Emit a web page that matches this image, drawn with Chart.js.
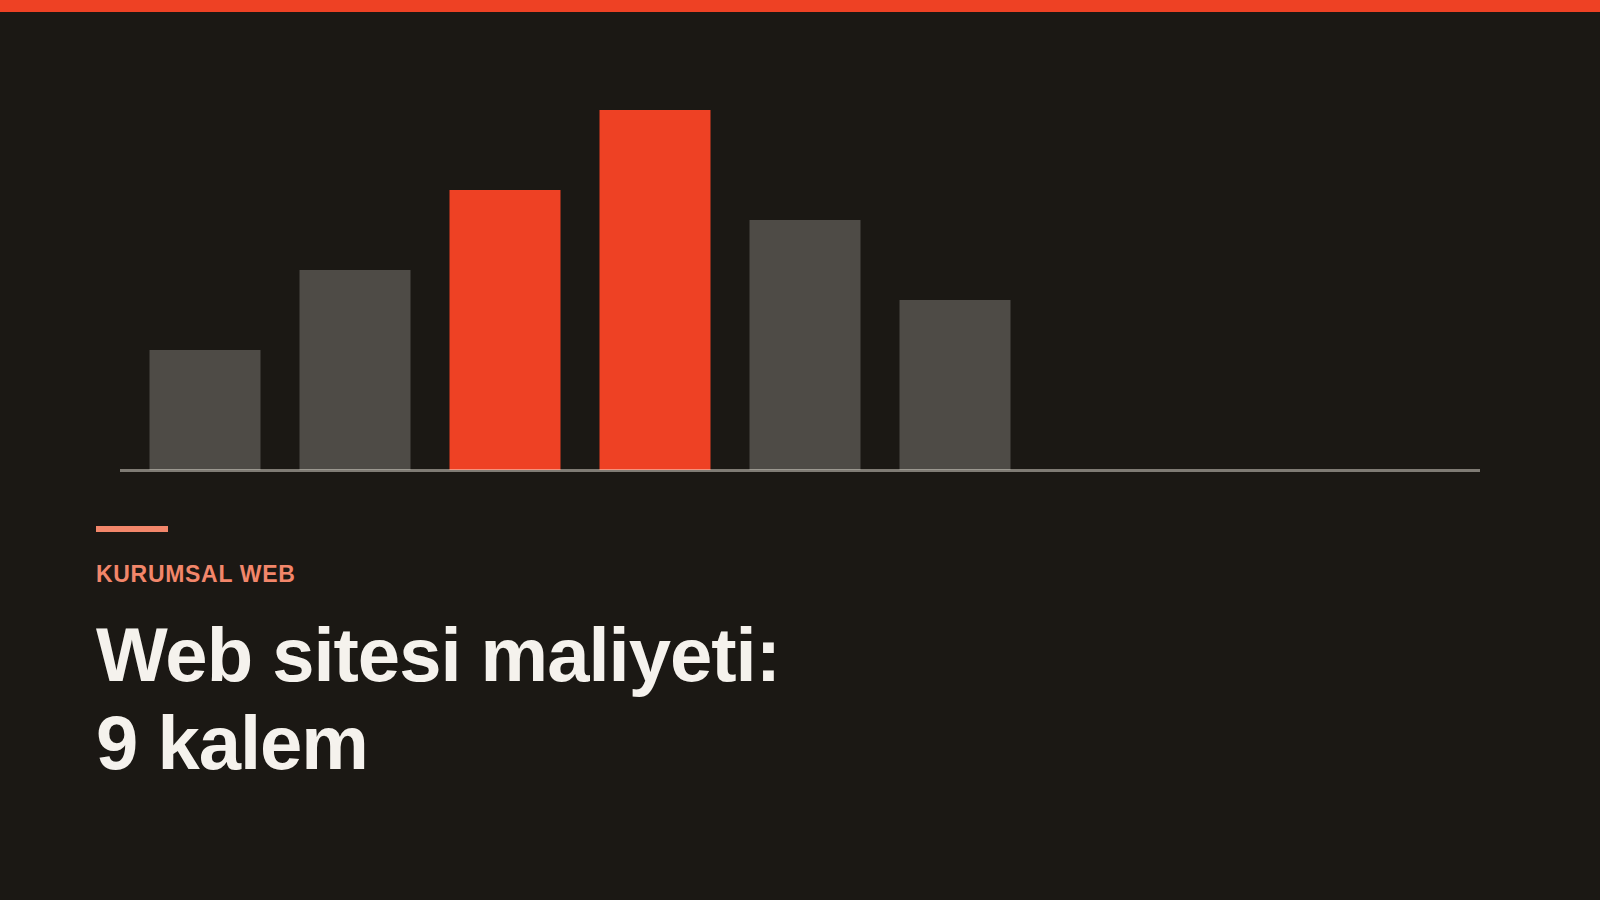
<!DOCTYPE html>
<html lang="tr">
<head>
    <meta charset="UTF-8">
    <title>Web sitesi maliyeti</title>
    <script src="https://cdn.jsdelivr.net/npm/chart.js"></script>
    <style>
        html, body { margin: 0; padding: 0; }
        body {
            width: 1600px; height: 900px; overflow: hidden; position: relative;
            background: #1b1814;
            font-family: "Liberation Sans", Arial, sans-serif;
        }
        .topbar { position: absolute; left: 0; top: 0; width: 1600px; height: 12px; background: #ee4124; }
        #chartWrap { position: absolute; left: 0; top: 0; width: 1600px; height: 480px; }
        .accent { position: absolute; left: 96px; top: 526px; width: 72px; height: 6px; background: #f2866a; }
        .kicker {
            position: absolute; left: 96px; top: 563px; margin: 0;
            font-size: 23px; line-height: 23px; font-weight: 700; letter-spacing: 0.03em;
            color: #f2866a;
        }
        h1 {
            position: absolute; left: 96px; top: 611px; margin: 0;
            font-size: 76px; line-height: 88px; font-weight: 700; letter-spacing: -1px;
            color: #f5f2ed;
        }
    </style>
</head>
<body>
    <div class="topbar"></div>
    <div id="chartWrap"><canvas id="costChart" width="1600" height="480"></canvas></div>
    <div class="accent"></div>
    <p class="kicker">KURUMSAL WEB</p>
    <h1>Web sitesi maliyeti:<br>9 kalem</h1>

    <script>
        // 9 kalem, only the first six have a bar
        const categories = ['Kalem 1', 'Kalem 2', 'Kalem 3', 'Kalem 4', 'Kalem 5', 'Kalem 6', 'Kalem 7', 'Kalem 8', 'Kalem 9'];
        const costValues = [120, 200, 280, 360, 250, 170, null, null, null];
        const highlighted = [false, false, true, true, false, false, false, false, false];
        const yMax = 400;

        const RED = '#ee4124';
        const GREY = '#4e4b46';

        // baseline drawn over the bars, a bit wider on the left like the original
        const baseline = {
            id: 'baseline',
            afterDatasetsDraw(chart) {
                const ctx = chart.ctx;
                const a = chart.chartArea;
                const y = chart.scales.y.getPixelForValue(0);
                ctx.save();
                ctx.strokeStyle = 'rgba(255, 250, 240, 0.44)';
                ctx.lineWidth = 3;
                ctx.beginPath();
                ctx.moveTo(a.left - 10, y + 0.5);
                ctx.lineTo(a.right, y + 0.5);
                ctx.stroke();
                ctx.restore();
            }
        };

        new Chart(document.getElementById('costChart').getContext('2d'), {
            type: 'bar',
            data: {
                labels: categories,
                datasets: [{
                    data: costValues,
                    backgroundColor: highlighted.map(h => h ? RED : GREY),
                    borderWidth: 0,
                    categoryPercentage: 1,
                    barPercentage: 0.74
                }]
            },
            options: {
                responsive: false,
                animation: false,
                devicePixelRatio: 1,
                layout: { padding: { left: 130, right: 120, top: 70, bottom: 10 } },
                plugins: { legend: { display: false }, tooltip: { enabled: false } },
                scales: {
                    x: { display: false },
                    y: { display: false, min: 0, max: yMax }
                }
            },
            plugins: [baseline]
        });
    </script>
</body>
</html>
